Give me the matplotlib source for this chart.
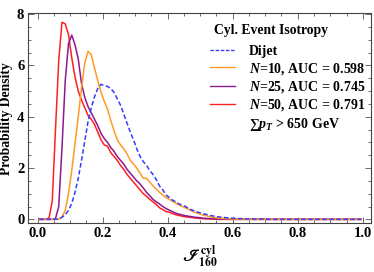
import numpy as np
import matplotlib
matplotlib.use("Agg")
import matplotlib.pyplot as plt
from matplotlib.ticker import MultipleLocator
from matplotlib.lines import Line2D

# bin centres of the histograms (0.01 wide bins on [0, 1])
bin_width = 0.01
x = np.arange(100) * bin_width + bin_width / 2

dijet = [0, 0, 0, 0, 0, 0, 0.02, 0.08, 0.18, 0.35,
         0.62, 1.05, 1.6, 2.3, 3.05, 3.8, 4.35, 4.78, 5.1, 5.26,
         5.22, 5.18, 5.1, 4.95, 4.7, 4.45, 4.1, 3.75, 3.4, 3.1,
         2.75, 2.45, 2.25, 2.1, 1.9, 1.75, 1.55, 1.3, 1.15, 0.95,
         0.85, 0.75, 0.68, 0.6, 0.55, 0.5, 0.42, 0.36, 0.32, 0.27,
         0.24, 0.2, 0.18, 0.14, 0.12, 0.1, 0.08, 0.07, 0.06, 0.05,
         0.04, 0.03, 0.03, 0.02, 0.02, 0.01, 0.01, 0.01, 0.01, 0.01,
         0, 0, 0, 0, 0, 0, 0, 0, 0, 0,
         0, 0, 0, 0, 0, 0, 0, 0, 0, 0,
         0, 0, 0, 0, 0, 0, 0, 0, 0, 0]

n10 = [0, 0, 0, 0, 0, 0, 0, 0.1, 0.35, 1.0,
       1.9, 2.95, 4.0, 5.1, 6.1, 6.55, 6.42, 5.9, 5.4, 4.95,
       4.6, 4.3, 3.85, 3.45, 3.1, 2.9, 2.75, 2.55, 2.3, 2.15,
       2.0, 1.8, 1.6, 1.6, 1.45, 1.3, 1.18, 1.05, 0.95, 0.85,
       0.78, 0.7, 0.63, 0.56, 0.5, 0.45, 0.38, 0.32, 0.27, 0.23,
       0.18, 0.15, 0.12, 0.09, 0.07, 0.05, 0.04, 0.03, 0.02, 0.02,
       0.01, 0.01, 0.01, 0.01, 0.01, 0, 0, 0, 0, 0,
       0, 0, 0, 0, 0, 0, 0, 0, 0, 0,
       0, 0, 0, 0, 0, 0, 0, 0, 0, 0,
       0, 0, 0, 0, 0, 0, 0, 0, 0, 0]

n25 = [0, 0, 0, 0, 0, 0.03, 0.5, 2.8, 5.4, 6.85,
       7.18, 6.8, 6.25, 5.3, 4.75, 4.4, 4.15, 3.9, 3.65, 3.35,
       3.15, 3.0, 2.8, 2.65, 2.45, 2.3, 2.15, 1.95, 1.8, 1.65,
       1.5, 1.38, 1.22, 1.05, 0.92, 0.78, 0.68, 0.6, 0.5, 0.42,
       0.36, 0.3, 0.24, 0.2, 0.17, 0.14, 0.12, 0.1, 0.08, 0.07,
       0.05, 0.04, 0.03, 0.03, 0.02, 0.02, 0.01, 0.01, 0, 0,
       0, 0, 0, 0, 0, 0, 0, 0, 0, 0,
       0, 0, 0, 0, 0, 0, 0, 0, 0, 0,
       0, 0, 0, 0, 0, 0, 0, 0, 0, 0,
       0, 0, 0, 0, 0, 0, 0, 0, 0, 0]

n50 = [0, 0, 0, 0.05, 0.7, 3.5, 6.2, 7.68, 7.62, 7.2,
       6.3, 5.55, 5.0, 4.65, 4.35, 4.05, 3.9, 3.7, 3.4, 3.1,
       2.9, 2.85, 2.6, 2.45, 2.3, 2.1, 1.95, 1.75, 1.6, 1.45,
       1.3, 1.15, 1.0, 0.9, 0.78, 0.68, 0.58, 0.45, 0.38, 0.3,
       0.28, 0.22, 0.18, 0.15, 0.12, 0.1, 0.08, 0.07, 0.05, 0.04,
       0.03, 0.02, 0.02, 0.01, 0.01, 0, 0, 0, 0, 0,
       0, 0, 0, 0, 0, 0, 0, 0, 0, 0,
       0, 0, 0, 0, 0, 0, 0, 0, 0, 0,
       0, 0, 0, 0, 0, 0, 0, 0, 0, 0,
       0, 0, 0, 0, 0, 0, 0, 0, 0, 0]

auc = {"10": 0.598, "25": 0.745, "50": 0.791}
pt_cut = 650

plt.rcParams['font.family'] = ['Liberation Serif', 'DejaVu Serif']
plt.rcParams['font.weight'] = 'bold'
plt.rcParams['mathtext.fontset'] = 'custom'
plt.rcParams['mathtext.rm'] = 'Liberation Serif:bold'
plt.rcParams['mathtext.it'] = 'Liberation Serif:bold:italic'
plt.rcParams['mathtext.bf'] = 'Liberation Serif:bold'

fig = plt.figure(figsize=(3.74, 2.72), dpi=100)
ax = fig.add_axes([0.0762, 0.180, 0.916, 0.771])

c_blue = '#3a3aff'
c_orange = '#ff9a22'
c_purple = '#8c1a90'
c_red = '#ff1f1f'
lw = 1.1

ax.plot(x, n50, color=c_red, lw=lw, zorder=3)
ax.plot(x, n25, color=c_purple, lw=lw, zorder=4)
ax.plot(x, n10, color=c_orange, lw=lw, zorder=5)
ax.plot(x, dijet, color=c_blue, lw=lw, ls=(0, (3, 1.6)), zorder=6)

ax.set_xlim(-0.028, 1.0255)
ax.set_ylim(-0.144, 8.03)

ax.xaxis.set_major_locator(MultipleLocator(0.2))
ax.xaxis.set_minor_locator(MultipleLocator(0.05))
ax.yaxis.set_major_locator(MultipleLocator(2))
ax.yaxis.set_minor_locator(MultipleLocator(0.5))
ax.xaxis.set_major_formatter(plt.FuncFormatter(lambda v, p: f"{v:.1f}"))
ax.yaxis.set_major_formatter(plt.FuncFormatter(lambda v, p: f"{v:.0f}"))

ax.tick_params(which='both', direction='in', top=True, right=True,
               color='#555555', width=0.6, labelsize=10.5, pad=3)
ax.tick_params(which='major', length=4)
ax.tick_params(which='minor', length=2)
for s in ax.spines.values():
    s.set_color('#444444')
    s.set_linewidth(0.8)

ax.set_ylabel('Probability Density', fontsize=9.8, fontweight='bold', labelpad=3)
ax.set_xlabel(r'$\mathscr{I}_{\mathbf{160}}^{\mathbf{cyl}}$', fontsize=12,
              math_fontfamily='stix', labelpad=2)

handles = [
    Line2D([], [], color=c_blue, lw=1.0, ls=(0, (2.5, 1.2))),
    Line2D([], [], color=c_orange, lw=1.0),
    Line2D([], [], color=c_purple, lw=1.0),
    Line2D([], [], color=c_red, lw=1.0),
    Line2D([], [], color='none'),
]
labels = [
    'Dijet',
    r'$N$=10, AUC = %.3f' % auc["10"],
    r'$N$=25, AUC = %.3f' % auc["25"],
    r'$N$=50, AUC = %.3f' % auc["50"],
    r'$∑p_T$ > %d GeV' % pt_cut,
]
ax.text(0.5416, 0.92, 'Cyl. Event Isotropy', transform=ax.transAxes,
        fontsize=9.8, fontweight='bold', ha='left', va='center')
leg = ax.legend(handles, labels, loc='upper left',
                bbox_to_anchor=(0.530, 0.848), frameon=False, fontsize=10,
                handlelength=1.8, handletextpad=1.0,
                labelspacing=0.17, borderaxespad=0.0, borderpad=0.0)

fig.savefig('out.png', dpi=100)
